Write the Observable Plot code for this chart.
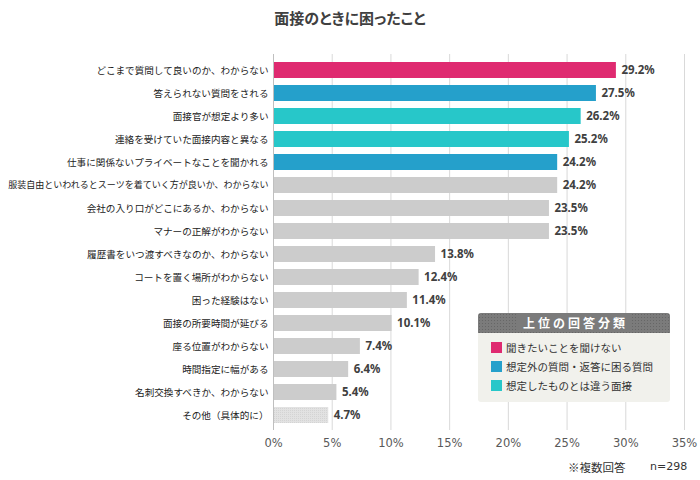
<!DOCTYPE html>
<html><head><meta charset="utf-8">
<script src="https://cdn.jsdelivr.net/npm/d3@7"></script>
<script src="https://cdn.jsdelivr.net/npm/@observablehq/plot@0.6"></script>
<style>
body{margin:0;background:#fff;}
#wrap{position:relative;width:700px;height:480px;overflow:hidden;font-family:"Noto Sans CJK JP",sans-serif;}
#title{position:absolute;left:0;top:7px;width:700px;text-align:center;font-size:15px;font-weight:bold;color:#404040;font-feature-settings:"palt";}
#chart{position:absolute;left:0;top:40px;}
#note1{position:absolute;left:568px;top:459px;font-size:11.5px;color:#333;white-space:pre;}
#note2{position:absolute;left:650px;top:460px;font-size:11px;color:#333;white-space:pre;font-family:"DejaVu Sans",sans-serif;}
#legend{position:absolute;left:478px;top:313px;width:192px;height:89px;background:#f1f1ec;border-radius:3px;overflow:hidden;}
#legend .hd{height:20px;background-color:#7b7b7b;background-image:radial-gradient(#666 0.8px,transparent 0.9px);background-size:3px 3px;color:#fff;font-weight:bold;font-size:12px;letter-spacing:3px;text-align:center;line-height:20px;}
#legend .hd span{background:#7b7b7b;padding:0 2px 0 5px;}
#legend .it{position:absolute;left:13px;font-size:10.5px;color:#333;line-height:12px;white-space:nowrap;}
#legend .sw{display:inline-block;width:11px;height:11px;vertical-align:-1px;margin-right:4px;}
</style></head>
<body>
<div id="wrap">
  <div id="title"></div>
  <div id="chart"></div>
  <div id="legend"></div>
  <div id="note1"></div>
  <div id="note2"></div>
</div>
<script>
const titleText = "面接のときに困ったこと";
const categories = [
  "どこまで質問して良いのか、わからない",
  "答えられない質問をされる",
  "面接官が想定より多い",
  "連絡を受けていた面接内容と異なる",
  "仕事に関係ないプライベートなことを聞かれる",
  "服装自由といわれるとスーツを着ていく方が良いか、わからない",
  "会社の入り口がどこにあるか、わからない",
  "マナーの正解がわからない",
  "履歴書をいつ渡すべきなのか、わからない",
  "コートを置く場所がわからない",
  "困った経験はない",
  "面接の所要時間が延びる",
  "座る位置がわからない",
  "時間指定に幅がある",
  "名刺交換すべきか、わからない",
  "その他（具体的に）"
];
const values = [29.2, 27.5, 26.2, 25.2, 24.2, 24.2, 23.5, 23.5, 13.8, 12.4, 11.4, 10.1, 7.4, 6.4, 5.4, 4.7];
const groups = ["聞きたいことを聞けない","想定外の質問・返答に困る質問","想定したものとは違う面接","想定したものとは違う面接","想定外の質問・返答に困る質問",
  "その他の項目","その他の項目","その他の項目","その他の項目","その他の項目","その他の項目","その他の項目","その他の項目","その他の項目","その他の項目","その他"];
const legendTitle = "上位の回答分類";
const legendLabels = ["聞きたいことを聞けない","想定外の質問・返答に困る質問","想定したものとは違う面接"];
const legendColors = ["#df2a70","#25a0cb","#27c7c9"];
const groupDomain = [...legendLabels, "その他の項目", "その他"];
const groupRange = [...legendColors, "#cccccc", "url(#dots)"];
const xTicks = [0, 5, 10, 15, 20, 25, 30, 35];
const noteText1 = "※複数回答";
const noteText2 = "n=298";

const data = categories.map((c, i) => ({cat: c, value: values[i], group: groups[i]}));

const chart = Plot.plot({
  width: 700, height: 420,
  marginLeft: 273, marginRight: 16, marginTop: 14, marginBottom: 30,
  style: {fontFamily: "'Noto Sans CJK JP', sans-serif", background: "transparent"},
  x: {domain: [0, 35], label: null},
  y: {domain: categories, padding: 0.32, label: null},
  color: {domain: groupDomain, range: groupRange},
  marks: [
    Plot.gridX(xTicks, {stroke: "#d9d9d9", strokeOpacity: 1}),
    Plot.barX(data, {x: "value", y: "cat", fill: "group"}),
    Plot.ruleX([0], {stroke: "#bfbfbf"}),
    Plot.text(data, {x: "value", y: "cat", text: d => d.value.toFixed(1) + "%", textAnchor: "start", dx: 5,
      fill: "#404040", fontWeight: "bold", fontSize: 11.5, fontFamily: "'Noto Sans', sans-serif"}),
    Plot.axisX(xTicks, {tickSize: 0, tickPadding: 8, tickFormat: d => d + "%", fontSize: 11.5, fill: "#595959", fontFamily: "'DejaVu Sans', sans-serif", label: null}),
    Plot.axisY({tickSize: 0, tickPadding: 5, fontSize: d => (String(d).length > 26 ? 9.0 : 9.6), fill: "#222", label: null})
  ]
});

const svg = d3.select(chart);
const defs = svg.insert("defs", ":first-child");
const pat = defs.append("pattern").attr("id", "dots").attr("patternUnits", "userSpaceOnUse").attr("width", 2).attr("height", 2);
pat.append("rect").attr("width", 2).attr("height", 2).attr("fill", "#e2e2e2");
pat.append("rect").attr("width", 1).attr("height", 1).attr("fill", "#d4d4d4");

document.getElementById("chart").appendChild(chart);
document.getElementById("title").textContent = titleText;
document.getElementById("note1").textContent = noteText1;
document.getElementById("note2").textContent = noteText2;

const lg = document.getElementById("legend");
const hd = document.createElement("div");
hd.className = "hd";
const hs = document.createElement("span");
hs.textContent = legendTitle;
hd.appendChild(hs);
lg.appendChild(hd);
legendLabels.forEach((l, i) => {
  const it = document.createElement("div");
  it.className = "it";
  it.style.top = (29 + i * 19) + "px";
  const sw = document.createElement("span");
  sw.className = "sw";
  sw.style.background = legendColors[i];
  it.appendChild(sw);
  it.appendChild(document.createTextNode(l));
  lg.appendChild(it);
});
</script>
</body></html>
